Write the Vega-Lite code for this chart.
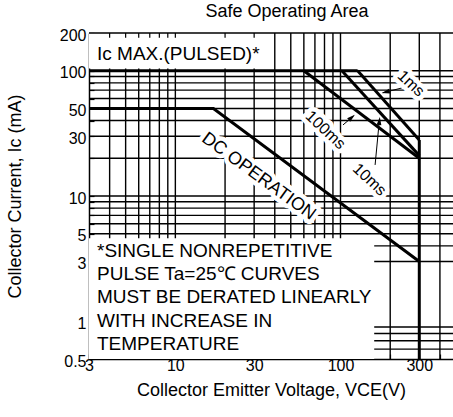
{
  "$schema": "https://vega.github.io/schema/vega-lite/v6.json",
  "width": 364,
  "height": 326,
  "autosize": {"type": "none"},
  "padding": {"left": 89, "top": 33, "right": 0, "bottom": 58},
  "background": "white",
  "title": {"text": "Safe Operating Area", "fontSize": 18, "fontWeight": "normal", "font": "Liberation Sans", "color": "black", "dx": 16, "offset": 6},
  "datasets": {
    "gridx": [
      {"V": 4, "I": 0.5, "I2": 200}, {"V": 5, "I": 0.5, "I2": 200}, {"V": 6, "I": 0.5, "I2": 200}, {"V": 7, "I": 0.5, "I2": 200},
      {"V": 8, "I": 0.5, "I2": 200}, {"V": 9, "I": 0.5, "I2": 200}, {"V": 10, "I": 0.5, "I2": 200}, {"V": 20, "I": 0.5, "I2": 200},
      {"V": 30, "I": 0.5, "I2": 200}, {"V": 40, "I": 0.5, "I2": 200}, {"V": 50, "I": 0.5, "I2": 200}, {"V": 60, "I": 0.5, "I2": 200},
      {"V": 70, "I": 0.5, "I2": 200}, {"V": 80, "I": 0.5, "I2": 200}, {"V": 90, "I": 0.5, "I2": 200}, {"V": 100, "I": 0.5, "I2": 200},
      {"V": 200, "I": 0.5, "I2": 200}, {"V": 300, "I": 0.5, "I2": 200}, {"V": 400, "I": 0.5, "I2": 200}
    ],
    "gridy": [
      {"I": 0.6, "V": 3, "V2": 480}, {"I": 0.7, "V": 3, "V2": 480}, {"I": 0.8, "V": 3, "V2": 480}, {"I": 0.9, "V": 3, "V2": 480},
      {"I": 3, "V": 3, "V2": 480}, {"I": 4, "V": 3, "V2": 480}, {"I": 5, "V": 3, "V2": 480}, {"I": 6, "V": 3, "V2": 480},
      {"I": 7, "V": 3, "V2": 480}, {"I": 8, "V": 3, "V2": 480}, {"I": 9, "V": 3, "V2": 480}, {"I": 10, "V": 3, "V2": 480},
      {"I": 20, "V": 3, "V2": 480}, {"I": 30, "V": 3, "V2": 480}, {"I": 40, "V": 3, "V2": 480}, {"I": 50, "V": 3, "V2": 480},
      {"I": 60, "V": 3, "V2": 480}, {"I": 70, "V": 3, "V2": 480}, {"I": 80, "V": 3, "V2": 480}, {"I": 90, "V": 3, "V2": 480},
      {"I": 100, "V": 3, "V2": 480}
    ],
    "border": [{"I": 200, "V": 3, "V2": 480}],
    "topticks": [
      {"V": 4, "I": 200, "I2": 183}, {"V": 5, "I": 200, "I2": 183}, {"V": 6, "I": 200, "I2": 183}, {"V": 7, "I": 200, "I2": 183},
      {"V": 8, "I": 200, "I2": 183}, {"V": 9, "I": 200, "I2": 183}, {"V": 10, "I": 200, "I2": 183}, {"V": 20, "I": 200, "I2": 183},
      {"V": 30, "I": 200, "I2": 183}
    ],
    "boxes": [{"V": 3, "V2": 35, "I": 104, "I2": 200}, {"V": 3, "V2": 160, "I": 0.5, "I2": 4.6}],
    "soa": [
      {"s": "max", "V": 3, "I": 100}, {"s": "max", "V": 127, "I": 100},
      {"s": "1ms", "V": 127, "I": 100}, {"s": "1ms", "V": 300, "I": 28},
      {"s": "10ms", "V": 102, "I": 100}, {"s": "10ms", "V": 300, "I": 21},
      {"s": "100ms", "V": 60, "I": 100}, {"s": "100ms", "V": 300, "I": 20},
      {"s": "dc", "V": 3, "I": 50}, {"s": "dc", "V": 17, "I": 50}, {"s": "dc", "V": 300, "I": 3},
      {"s": "vmax", "V": 300, "I": 28}, {"s": "vmax", "V": 300, "I": 0.5}
    ],
    "arrows": [
      {"a": "1ms", "V": 235, "I": 72.8, "V2": 180, "I2": 66.6},
      {"a": "100ms", "V": 103.5, "I": 36.9, "V2": 120, "I2": 43.5},
      {"a": "10ms", "V": 162, "I": 17.7, "V2": 172, "I2": 40.5}
    ],
    "heads": [
      {"a": "1ms", "V": 188, "I": 67.6},
      {"a": "100ms", "V": 117, "I": 42.4},
      {"a": "10ms", "V": 172, "I": 39.7}
    ],
    "labels": [
      {"t": "DC OPERATION", "k": "dc", "V": 31.9, "I": 14.3},
      {"t": "100ms", "k": "ms", "V": 81, "I": 33.6},
      {"t": "10ms", "k": "ms", "V": 150, "I": 13.5},
      {"t": "1ms", "k": "ms", "V": 267, "I": 79}
    ],
    "notes": [
      {"t": "Ic MAX.(PULSED)*", "V": 3, "I": 121.8},
      {"t": "*SINGLE NONREPETITIVE", "V": 3, "I": 3.26},
      {"t": "PULSE Ta=25℃ CURVES", "V": 3, "I": 2.14},
      {"t": "MUST BE DERATED LINEARLY", "V": 3, "I": 1.40},
      {"t": "WITH INCREASE IN", "V": 3, "I": 0.90},
      {"t": "TEMPERATURE", "V": 3, "I": 0.59}
    ]
  },
  "encoding": {
    "x": {"field": "V", "type": "quantitative", "scale": {"type": "log", "domain": [3, 480], "nice": false},
      "axis": {"orient": "bottom", "title": "Collector Emitter Voltage, VCE(V)", "values": [3, 4, 5, 6, 7, 8, 9, 10, 20, 30, 40, 50, 60, 70, 80, 90, 100, 200, 300, 400],
        "labelExpr": "indexof([3,10,30,100,300], datum.value) >= 0 ? datum.value + '' : ''", "labelPadding": 3, "titlePadding": 8}},
    "y": {"field": "I", "type": "quantitative", "scale": {"type": "log", "domain": [0.5, 200], "nice": false},
      "axis": {"title": "Collector Current, Ic (mA)", "values": [0.5, 0.6, 0.7, 0.8, 0.9, 1, 2, 3, 4, 5, 6, 7, 8, 9, 10, 20, 30, 40, 50, 60, 70, 80, 90, 100, 200],
        "labelExpr": "indexof([0.5,1,3,5,10,30,50,100,200], datum.value) >= 0 ? datum.value + '' : ''", "labelPadding": 8, "labelOffset": 2, "titlePadding": 35}}
  },
  "layer": [
    {
      "data": {"name": "gridx"},
      "mark": {"type": "rule", "color": "black", "strokeWidth": 1.4},
      "encoding": {"y2": {"field": "I2"}}
    },
    {
      "data": {"name": "gridy"},
      "mark": {"type": "rule", "color": "black", "strokeWidth": 1.4},
      "encoding": {"x2": {"field": "V2"}}
    },
    {
      "data": {"name": "boxes"},
      "mark": {"type": "rect", "color": "white"},
      "encoding": {"x2": {"field": "V2"}, "y2": {"field": "I2"}}
    },
    {
      "data": {"name": "border"},
      "mark": {"type": "rule", "color": "black", "strokeWidth": 1.5},
      "encoding": {"x2": {"field": "V2"}}
    },
    {
      "data": {"name": "topticks"},
      "mark": {"type": "rule", "color": "black", "strokeWidth": 1.2},
      "encoding": {"y2": {"field": "I2"}}
    },
    {
      "data": {"name": "soa"},
      "mark": {"type": "line", "color": "black", "strokeWidth": 3},
      "encoding": {"detail": {"field": "s"}}
    },
    {
      "data": {"name": "arrows"},
      "mark": {"type": "rule", "color": "black", "strokeWidth": 1},
      "encoding": {"x2": {"field": "V2"}, "y2": {"field": "I2"}}
    },
    {
      "data": {"name": "heads"},
      "transform": [{"filter": "datum.a == '1ms'"}],
      "mark": {"type": "point", "shape": "M0,-1L0.6,1L-0.6,1Z", "filled": true, "color": "black", "opacity": 1, "size": 64, "angle": 256}
    },
    {
      "data": {"name": "heads"},
      "transform": [{"filter": "datum.a == '100ms'"}],
      "mark": {"type": "point", "shape": "M0,-1L0.6,1L-0.6,1Z", "filled": true, "color": "black", "opacity": 1, "size": 64, "angle": 50}
    },
    {
      "data": {"name": "heads"},
      "transform": [{"filter": "datum.a == '10ms'"}],
      "mark": {"type": "point", "shape": "M0,-1L0.6,1L-0.6,1Z", "filled": true, "color": "black", "opacity": 1, "size": 64, "angle": 6}
    },
    {
      "data": {"name": "labels"},
      "transform": [{"filter": "datum.k == 'dc'"}],
      "mark": {"type": "text", "font": "Liberation Sans", "fontSize": 18, "angle": 36, "align": "center", "baseline": "middle", "fill": "white", "stroke": "white", "strokeWidth": 9, "strokeJoin": "round"},
      "encoding": {"text": {"field": "t"}}
    },
    {
      "data": {"name": "labels"},
      "transform": [{"filter": "datum.k == 'dc'"}],
      "mark": {"type": "text", "font": "Liberation Sans", "fontSize": 18, "angle": 36, "align": "center", "baseline": "middle", "color": "black"},
      "encoding": {"text": {"field": "t"}}
    },
    {
      "data": {"name": "labels"},
      "transform": [{"filter": "datum.k == 'ms'"}],
      "mark": {"type": "text", "font": "Liberation Sans", "fontSize": 16, "angle": 43, "align": "center", "baseline": "middle", "fill": "white", "stroke": "white", "strokeWidth": 9, "strokeJoin": "round"},
      "encoding": {"text": {"field": "t"}}
    },
    {
      "data": {"name": "labels"},
      "transform": [{"filter": "datum.k == 'ms'"}],
      "mark": {"type": "text", "font": "Liberation Sans", "fontSize": 16, "angle": 43, "align": "center", "baseline": "middle", "color": "black"},
      "encoding": {"text": {"field": "t"}}
    },
    {
      "data": {"name": "notes"},
      "mark": {"type": "text", "font": "Liberation Sans", "fontSize": 19, "align": "left", "baseline": "alphabetic", "dx": 8, "color": "black"},
      "encoding": {"text": {"field": "t"}}
    }
  ],
  "config": {
    "font": "Liberation Sans",
    "view": {"stroke": null},
    "axis": {
      "labelFont": "Liberation Sans", "labelFontSize": 16, "labelColor": "black",
      "titleFont": "Liberation Sans", "titleFontSize": 18, "titleFontWeight": "normal", "titleColor": "black",
      "domainColor": "black", "domainWidth": 1.5, "tickColor": "black", "tickWidth": 1.2, "tickSize": -5,
      "grid": false, "zindex": 1, "labelOverlap": false, "labelFlush": false
    }
  }
}
